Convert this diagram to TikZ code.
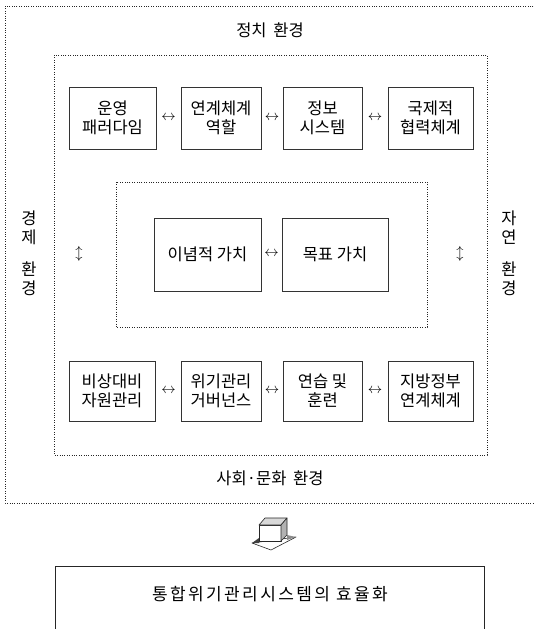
\documentclass[tikz,border=0pt]{standalone}
\usepackage{fontspec}
\setmainfont{Noto Sans CJK KR}
\begin{document}
\begin{tikzpicture}[x=1pt,y=-1pt,
  dotbox/.style={draw=black!85, line width=0.75pt, dash pattern=on 1pt off 1.4pt},
  cbox/.style={draw=black!80, line width=1pt, fill=white, align=center, inner sep=0pt,
    font=\fontsize{16.5}{19}\selectfont},
  lbl/.style={font=\fontsize{16.5}{19}\selectfont, align=center, inner sep=0pt},
  arr/.style={font=\fontsize{15}{15}\selectfont, inner sep=0pt, text=black}
]
\clip (0,0) rectangle (534,629);
\useasboundingbox (0,0) rectangle (534,629);
\fill[white] (0,0) rectangle (534,629);

% dotted frames
\draw[dotbox] (5,6) rectangle (545,503);
\draw[dotbox] (54,55) rectangle (487,455);
\draw[dotbox] (116,182) rectangle (427,327);

% environment labels
\node[lbl] (pol) at (270,30) {정치\hspace{3pt} 환경};
\node[lbl] (soc) at (270,478) {사회·문화\hspace{3pt} 환경};
\node[lbl] (eco) at (29,253) {경\\제\\[13pt]환\\경};
\node[lbl] (nat) at (509,253) {자\\연\\[13pt]환\\경};

% top row
\node[cbox, minimum width=87pt, minimum height=62pt] (t1) at (112.5,118) {운영\\패러다임};
\node[cbox, minimum width=80pt, minimum height=62pt] (t2) at (221,118) {연계체계\\역할};
\node[cbox, minimum width=79pt, minimum height=62pt] (t3) at (322.5,118) {정보\\시스템};
\node[cbox, minimum width=85pt, minimum height=62pt] (t4) at (430.5,118) {국제적\\협력체계};

% middle row
\node[cbox, minimum width=107pt, minimum height=73pt] (m1) at (207.5,254.5) {이념적 가치};
\node[cbox, minimum width=106pt, minimum height=73pt] (m2) at (335,254.5) {목표 가치};

% bottom row
\node[cbox, minimum width=86pt, minimum height=60pt] (b1) at (112,391) {비상대비\\자원관리};
\node[cbox, minimum width=80pt, minimum height=60pt] (b2) at (221,391) {위기관리\\거버넌스};
\node[cbox, minimum width=79pt, minimum height=60pt] (b3) at (322.5,391) {연습 및\\훈련};
\node[cbox, minimum width=85pt, minimum height=60pt] (b4) at (430.5,391) {지방정부\\연계체계};

% double arrows
\node[arr] (a1) at (168.5,118) {$\leftrightarrow$};
\node[arr] (a2) at (272,118) {$\leftrightarrow$};
\node[arr] (a3) at (375,118) {$\leftrightarrow$};
\node[arr] (a4) at (271.5,254) {$\leftrightarrow$};
\node[arr] (a5) at (168.5,391) {$\leftrightarrow$};
\node[arr] (a6) at (272,391) {$\leftrightarrow$};
\node[arr] (a7) at (375,391) {$\leftrightarrow$};
\node[arr] (v1) at (79,254) {$\updownarrow$};
\node[arr] (v2) at (460,254) {$\updownarrow$};

% 3D block arrow
\begin{scope}[line width=0.6pt, draw=black!85, line join=round]
  \filldraw[fill=white] (252,543) -- (271,550) -- (296,537) -- cycle;
  \fill[black!75] (252,543) -- (259,538) -- (259,543) -- cycle;
  \fill[black!45] (287,535) -- (296,537) -- (287,540) -- cycle;
  \filldraw[fill=white] (259,525) rectangle (281,541);
  \filldraw[fill=black!15] (259,525) -- (265,518) -- (287,518) -- (281,525) -- cycle;
  \filldraw[fill=black!30] (281,525) -- (287,518) -- (287,535) -- (281,541) -- cycle;
\end{scope}

% result box (runs past the lower edge)
\draw[line width=1pt, draw=black!85] (55,640) -- (55,566) -- (484,566) -- (484,640);
\node[lbl, font=\fontsize{17}{19}\selectfont\addfontfeature{LetterSpace=14}] (res) at (270,594) {통합위기관리시스템의 효율화};
\end{tikzpicture}
\end{document}
